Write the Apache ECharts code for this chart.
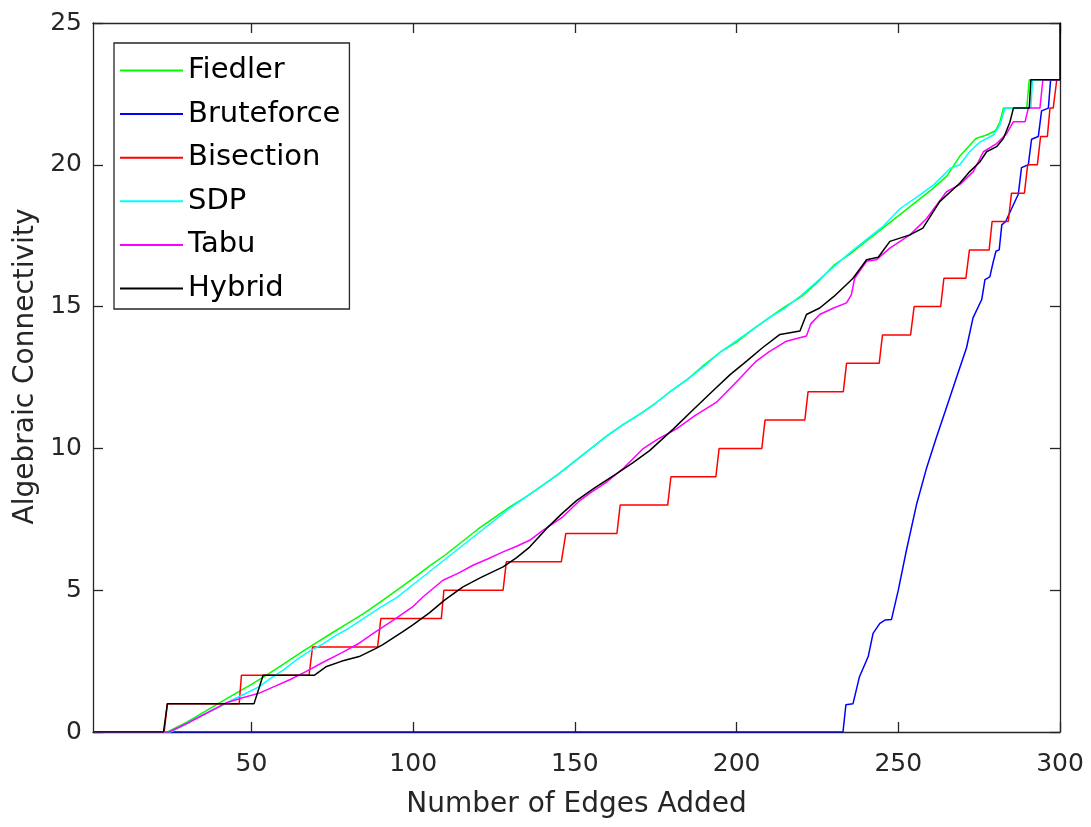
<!DOCTYPE html>
<html>
<head>
<meta charset="utf-8">
<script src="https://cdn.jsdelivr.net/npm/echarts@6/dist/echarts.min.js"></script>
<style>
  html, body { margin: 0; padding: 0; background: #ffffff; }
  #chart { width: 1091px; height: 827px; }
</style>
</head>
<body>
<div id="chart"></div>
<script>
// ---- data ----
const seriesNames = ['Fiedler', 'Bruteforce', 'Bisection', 'SDP', 'Tabu', 'Hybrid'];
const seriesColors = ['#00ff00', '#0000ff', '#ff0000', '#00ffff', '#ff00ff', '#000000'];
const xTicks = [50, 100, 150, 200, 250, 300];
const yTicks = [0, 5, 10, 15, 20, 25];

const fiedler = [
  [1,0],[24,0],[30,0.35],[35,0.68],[40,1.02],[45,1.35],[50,1.68],[55,2.03],[60,2.4],[65,2.78],
  [69,3.07],[75,3.5],[80,3.85],[85,4.2],[90,4.6],[95,5.0],[100,5.42],[105,5.85],[110,6.25],
  [115,6.7],[120,7.15],[125,7.55],[130,7.95],[135,8.3],[140,8.7],[145,9.1],[150,9.55],[155,10.0],
  [160,10.45],[165,10.85],[170,11.2],[175,11.6],[180,12.05],[185,12.45],[190,12.95],[195,13.4],
  [200,13.75],[205,14.2],[210,14.6],[215,15.0],[220,15.35],[225,15.85],[230,16.45],[235,16.85],
  [240,17.3],[245,17.75],[250,18.2],[255,18.65],[260,19.1],[265,19.6],[269,20.3],[274,20.93],
  [277.3,21.05],[280,21.2],[281.4,21.5],[282.5,22],[289.7,22],[290.5,23],[300,23]
];
const bruteforce = [
  [1,0],[232.9,0],[233.8,0.96],[236,1.0],[238,1.95],[240.7,2.66],[242.2,3.48],[244.3,3.83],
  [246,3.95],[247.9,3.97],[250,5.0],[252.5,6.4],[255.7,8.05],[258.8,9.33],[261.8,10.39],
  [264.9,11.44],[268,12.5],[271.1,13.55],[273.1,14.6],[275.8,15.25],[276.8,15.95],[278.3,16.05],
  [279.4,16.6],[280.2,16.95],[281.2,17.0],[282,17.88],[283.2,18.0],[287.1,18.96],[288.1,19.9],
  [290.2,20],[291.2,20.9],[293.3,21],[294.3,21.9],[296.4,22],[297.1,23],[300,23]
];
const bisection = [
  [1,0],[23,0],[24,1],[46.2,1],[46.9,2],[67.8,2],[68.9,3],[89,3],[90,4],[108.7,4],[109.5,5],
  [127.8,5],[128.8,6],[145.8,6],[147.2,7],[163,7],[164,8],[178.7,8],[179.7,9],[193.6,9],[194.6,10],
  [207.8,10],[208.8,11],[221.1,11],[222.1,12],[233,12],[234,13],[244.1,13],[245.1,14],[253.8,14],
  [254.9,15],[263.1,15],[264.1,16],[270.9,16],[272,17],[278.1,17],[279,18],[284,18],[285,19],
  [289,19],[290,20],[293,20],[294,21],[296.1,21],[296.9,22],[297.9,22],[299,23],[300,23]
];
const sdp = [
  [1,0],[25,0],[30,0.3],[35,0.6],[40,0.88],[44,1.13],[48,1.35],[52.4,1.6],[56,1.9],[60,2.2],
  [64,2.55],[68,2.85],[72,3.1],[76,3.4],[80,3.65],[84,3.95],[90,4.4],[95,4.75],[100,5.2],[105,5.65],
  [110,6.1],[115,6.55],[120,7.0],[125,7.45],[130,7.9],[135,8.3],[140,8.7],[145,9.1],[150,9.55],
  [155,10.0],[160,10.45],[165,10.85],[170,11.2],[175,11.6],[180,12.05],[185,12.45],[190,12.9],
  [195,13.4],[200,13.8],[205,14.2],[210,14.6],[215,14.95],[220,15.4],[225,15.9],[230,16.4],
  [235,16.9],[240,17.35],[245,17.8],[250.5,18.45],[256.7,18.94],[261,19.3],[266,19.87],[269,20.0],
  [272,20.45],[275.2,20.8],[279.4,21.05],[281.4,21.4],[283,22],[291,22],[291.5,23],[300,23]
];
const tabu = [
  [1,0],[24.5,0],[30,0.3],[35,0.6],[42,1.02],[47,1.2],[52.4,1.37],[57,1.6],[62,1.85],[66.8,2.13],
  [72,2.45],[78,2.8],[83.3,3.13],[88,3.5],[94,3.95],[99.8,4.41],[103,4.76],[109.2,5.35],[114,5.6],
  [118.5,5.88],[123,6.1],[127.8,6.35],[132,6.55],[136,6.76],[140,7.1],[146.2,7.58],[151.5,8.16],
  [155,8.45],[159.7,8.8],[165,9.3],[171,9.98],[176,10.35],[181.3,10.68],[187,11.15],[193.7,11.62],
  [200,12.35],[206.1,13.08],[210,13.4],[215.4,13.78],[221.6,13.96],[223,14.4],[225.7,14.72],
  [230,14.95],[234,15.13],[235.5,15.42],[236.5,16.0],[240.2,16.6],[243.2,16.65],[247.4,17.06],
  [253.6,17.53],[258.7,18.1],[264.9,19.05],[269,19.3],[273.2,19.76],[276.3,20.46],[280.4,20.75],
  [283.5,21.1],[285.6,21.52],[289.2,21.52],[290.2,22],[293.8,22],[294.7,23],[300,23]
];
const hybrid = [
  [1,0],[22.8,0],[24,1],[50.8,1],[53.6,2],[69.4,2],[73,2.3],[78,2.5],[83.3,2.66],[88.5,2.95],
  [90.5,3.07],[96.7,3.53],[99.8,3.77],[105,4.2],[109.7,4.65],[115.4,5.12],[121,5.45],[127.8,5.82],
  [132,6.15],[136,6.52],[141.2,7.17],[146,7.7],[150.5,8.16],[156,8.6],[162.8,9.1],[168,9.5],
  [173.1,9.92],[180.4,10.68],[186,11.3],[192.7,12.03],[198,12.6],[203.1,13.08],[208,13.55],
  [213.4,14.02],[219.6,14.14],[221.6,14.72],[225.7,14.95],[230,15.35],[234,15.78],[236,16.0],
  [240.2,16.65],[243.8,16.74],[247.4,17.3],[253.6,17.53],[257.6,17.77],[262.8,18.7],[269,19.35],
  [272.1,19.76],[275.2,20.1],[277.3,20.46],[280.4,20.64],[282.5,20.93],[284.5,21.5],[285.6,22],
  [290.5,22],[291,23],[300,23],[300,25]
];
const seriesData = [fiedler, bruteforce, bisection, sdp, tabu, hybrid];

// ---- chart ----
const FONT = 'DejaVu Sans';
const AXIS = '#262626';
const chart = echarts.init(document.getElementById('chart'), null, { renderer: 'canvas' });

const xBase = {
  type: 'value', min: 1, max: 300, gridIndex: 0,
  splitLine: { show: false },
  axisLine: { show: true, onZero: false, lineStyle: { color: AXIS, width: 1.3 } }
};
const yBase = {
  type: 'value', min: 0, max: 25, interval: 5, gridIndex: 0,
  splitLine: { show: false },
  axisLine: { show: true, onZero: false, lineStyle: { color: AXIS, width: 1.3 } }
};

const option = {
  animation: false,
  backgroundColor: '#ffffff',
  textStyle: { fontFamily: FONT },
  grid: { left: 93, right: 31, top: 23, bottom: 95, containLabel: false },
  xAxis: [
    Object.assign({}, xBase, {
      position: 'bottom',
      name: 'Number of Edges Added', nameLocation: 'middle', nameGap: 59,
      nameTextStyle: { fontFamily: FONT, fontSize: 28, color: AXIS },
      axisTick: { show: true, inside: true, length: 10, customValues: xTicks, lineStyle: { color: AXIS, width: 1.3 } },
      axisLabel: { show: true, customValues: xTicks, margin: 20, fontFamily: FONT, fontSize: 25, color: AXIS }
    }),
    Object.assign({}, xBase, {
      position: 'top',
      axisTick: { show: true, inside: true, length: 10, customValues: xTicks, lineStyle: { color: AXIS, width: 1.3 } },
      axisLabel: { show: false }
    })
  ],
  yAxis: [
    Object.assign({}, yBase, {
      position: 'left',
      name: 'Algebraic Connectivity', nameLocation: 'middle', nameGap: 52, nameRotate: 90,
      nameTextStyle: { fontFamily: FONT, fontSize: 28, color: AXIS, padding: [0, 0, 0, 22] },
      axisTick: { show: true, inside: true, length: 10, lineStyle: { color: AXIS, width: 1.3 } },
      axisLabel: { show: true, margin: 11, fontFamily: FONT, fontSize: 25, color: AXIS,
        formatter: function (v) { return yTicks.indexOf(v) >= 0 ? String(v) : ''; } }
    }),
    Object.assign({}, yBase, {
      position: 'right',
      axisTick: { show: true, inside: true, length: 10, lineStyle: { color: AXIS, width: 1.3 } },
      axisLabel: { show: false }
    })
  ],
  legend: {
    show: true,
    orient: 'vertical',
    left: 114, top: 43,
    padding: [13, 9, 6, 6],
    itemGap: 14.6,
    itemWidth: 63, itemHeight: 2,
    icon: 'rect',
    backgroundColor: '#ffffff',
    borderColor: AXIS, borderWidth: 1.3, borderRadius: 0,
    textStyle: { fontFamily: FONT, fontSize: 29, color: '#000000', lineHeight: 29, padding: [0, 0, 0, 0] },
    data: seriesNames
  },
  series: seriesNames.map(function (name, i) {
    return {
      name: name,
      type: 'line',
      xAxisIndex: 0, yAxisIndex: 0,
      data: seriesData[i],
      showSymbol: false,
      symbol: 'none',
      smooth: false,
      clip: true,
      color: seriesColors[i],
      lineStyle: { color: seriesColors[i], width: 1.5 },
      emphasis: { disabled: true }
    };
  })
};
chart.setOption(option);
</script>
</body>
</html>
